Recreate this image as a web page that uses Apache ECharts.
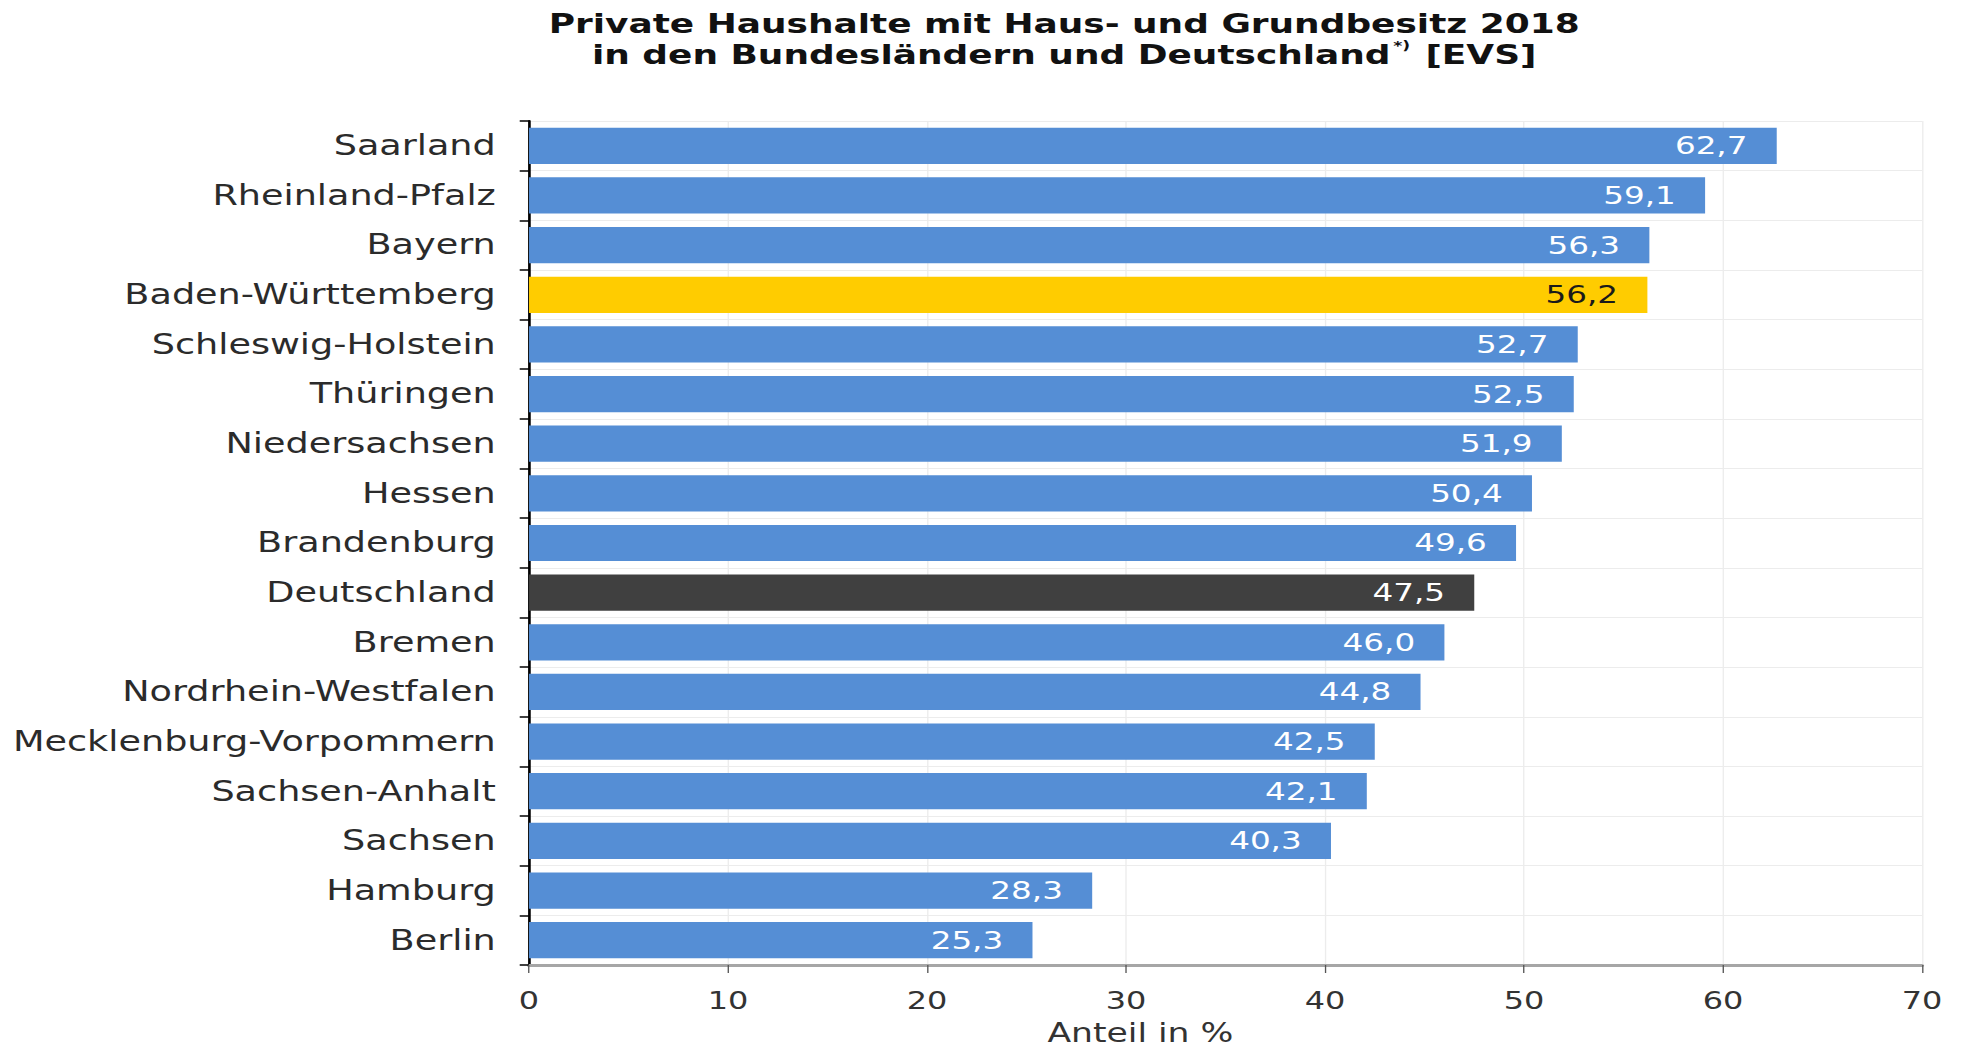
<!DOCTYPE html>
<html lang="de">
<head>
<meta charset="utf-8">
<title>Private Haushalte mit Haus- und Grundbesitz 2018</title>
<script src="https://cdn.jsdelivr.net/npm/echarts@6/dist/echarts.min.js"></script>
<style>
  html, body { margin: 0; padding: 0; background: #ffffff; overflow: hidden; }
  /* The chart is laid out on a narrower canvas and widened horizontally,
     giving the broad lettering of the original graphic. */
  #wrap { width: 1970px; height: 1051px; overflow: hidden; }
  #chart { width: 1481px; height: 1051px; transform: scaleX(1.3302); transform-origin: 0 0; }
</style>
</head>
<body>
<div id="wrap"><div id="chart"></div></div>
<script>
// Bundesländer and Germany overall, sorted by share (top to bottom)
const laender = [
  'Saarland', 'Rheinland-Pfalz', 'Bayern', 'Baden-Württemberg',
  'Schleswig-Holstein', 'Thüringen', 'Niedersachsen', 'Hessen',
  'Brandenburg', 'Deutschland', 'Bremen', 'Nordrhein-Westfalen',
  'Mecklenburg-Vorpommern', 'Sachsen-Anhalt', 'Sachsen', 'Hamburg', 'Berlin'
];
// Share of private households with house and land ownership, in %
const anteil = [
  62.7, 59.1, 56.3, 56.2, 52.7, 52.5, 51.9, 50.4,
  49.6, 47.5, 46.0, 44.8, 42.5, 42.1, 40.3, 28.3, 25.3
];
const xTicks = [0, 10, 20, 30, 40, 50, 60, 70];

const BLUE = '#558ed5';
const GOLD = '#ffcc00';
const DARK = '#404040';
const FONT = '"DejaVu Sans", Verdana, sans-serif';

function barColor(name) {
  if (name === 'Baden-Württemberg') return GOLD;
  if (name === 'Deutschland') return DARK;
  return BLUE;
}
function labelColor(name) {
  return name === 'Baden-Württemberg' ? '#1a1a1a' : '#ffffff';
}
const fmt = v => v.toFixed(1).replace('.', ',');

const chart = echarts.init(document.getElementById('chart'), null, { renderer: 'svg' });

chart.setOption({
  animation: false,
  backgroundColor: '#ffffff',
  title: {
    text: '{t|Private Haushalte mit Haus- und Grundbesitz 2018}\n' +
          '{t|in den Bundesländern und Deutschland}{s|*)}{t| [EVS]}',
    left: 800,
    top: 8,
    textAlign: 'center',
    padding: 0,
    textStyle: {
      rich: {
        t: { fontFamily: FONT, fontWeight: 'bold', fontSize: 27, color: '#111111', lineHeight: 31 },
        s: { fontFamily: FONT, fontWeight: 'bold', fontSize: 13, color: '#111111', lineHeight: 31, verticalAlign: 'top', padding: [0, 2, 0, 2] }
      }
    }
  },
  grid: { left: 397.7, right: 36.1, top: 121, bottom: 83, containLabel: false },
  xAxis: {
    type: 'value',
    min: xTicks[0],
    max: xTicks[xTicks.length - 1],
    interval: xTicks[1] - xTicks[0],
    name: 'Anteil in %',
    nameLocation: 'middle',
    nameGap: 55,
    nameTextStyle: { fontFamily: FONT, fontSize: 26, color: '#333333', padding: [0, 128, 0, 0] },
    axisLine: { show: true, lineStyle: { color: '#a6a6a6', width: 3 } },
    axisTick: { show: true, length: 8, lineStyle: { color: '#555555', width: 1 } },
    axisLabel: { fontFamily: FONT, fontSize: 24, color: '#333333', margin: 24 },
    splitLine: { show: true, lineStyle: { color: '#ececec', width: 1 } }
  },
  yAxis: {
    type: 'category',
    data: laender,
    inverse: true,
    axisLine: { show: true, lineStyle: { color: '#000000', width: 2 } },
    axisTick: { show: true, length: 7, lineStyle: { color: '#000000', width: 1.5 } },
    axisLabel: { fontFamily: FONT, fontSize: 27.5, color: '#2b2b2b', margin: 25 },
    splitLine: { show: true, lineStyle: { color: '#ececec', width: 1 } }
  },
  series: [{
    type: 'bar',
    barWidth: '73%',
    data: anteil.map((v, i) => ({
      value: v,
      itemStyle: { color: barColor(laender[i]) },
      label: { color: labelColor(laender[i]) }
    })),
    label: {
      show: true,
      position: 'insideRight',
      distance: 22,
      fontFamily: FONT,
      fontSize: 24.5,
      formatter: p => fmt(p.value)
    }
  }]
});
</script>
</body>
</html>
